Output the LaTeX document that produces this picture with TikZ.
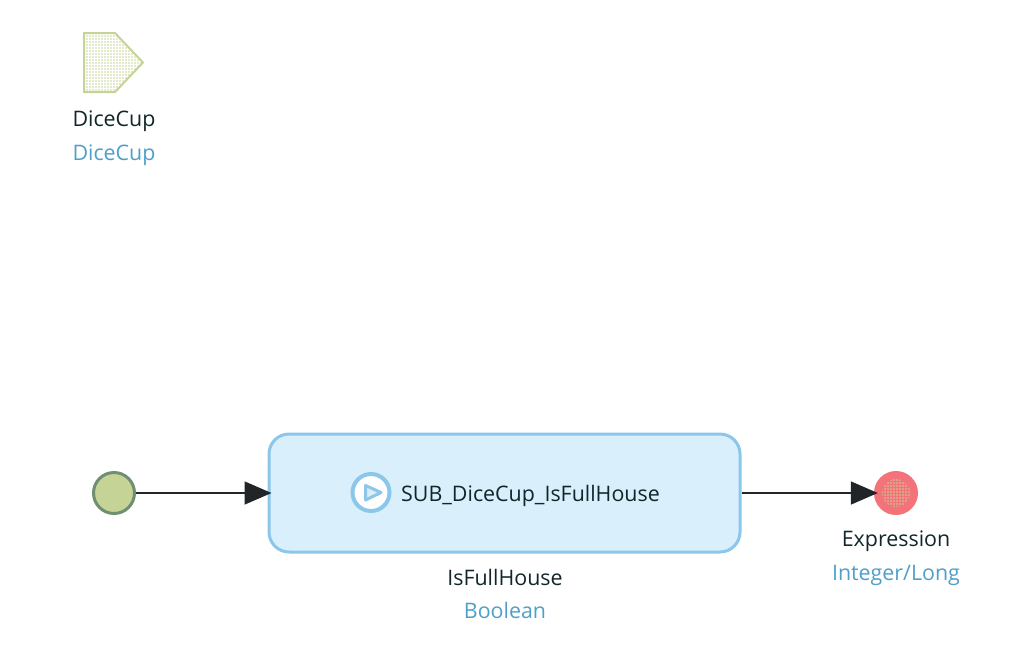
\documentclass[tikz,border=0pt]{standalone}
\usepackage{fontspec}
\setmainfont{Open Sans}
\usetikzlibrary{arrows.meta,patterns.meta}

\definecolor{flowBlue}{HTML}{8CC6EA}
\definecolor{flowFill}{HTML}{D9EFFB}
\definecolor{flowOlive}{HTML}{C6D396}
\definecolor{flowRing}{HTML}{6F8F70}
\definecolor{flowRed}{HTML}{F4727A}
\definecolor{flowType}{HTML}{4F9FC9}
\definecolor{flowText}{HTML}{10262A}
\definecolor{flowLine}{HTML}{222528}

\begin{document}
\begin{tikzpicture}
[x=1pt,y=-1pt,
flow/.style={draw=flowLine,line width=1.6pt,shorten >=-4pt,-{Triangle[length=27pt,width=23pt]}},
name label/.style={text=flowText,font=\fontsize{21.4}{25}\selectfont,inner sep=0pt,anchor=base},
type label/.style={text=flowType,font=\fontsize{21.4}{25}\selectfont,inner sep=0pt,anchor=base},
dotted fill/.style={pattern={Dots[distance=3pt,radius=0.9pt]},pattern color=flowOlive},
start event/.style={circle,draw=flowRing,fill=flowOlive,line width=3pt,minimum size=41pt,inner sep=0pt},
end event/.style={circle,fill=flowRed,minimum size=44pt,inner sep=0pt},
call box/.style={draw=flowBlue,fill=flowFill,line width=3pt,rounded corners=20pt,minimum width=471pt,minimum height=118pt,inner sep=0pt}]

\useasboundingbox (0,0) rectangle (1024,651);

% Parameter
\draw[draw=flowOlive,line width=2pt,dotted fill] (84,33) -- (115,33) -- (143,62.5) -- (115,92) -- (84,92) -- cycle;
\node[name label] (paramName) at (114,126) {DiceCup};
\node[type label] (paramType) at (114,160) {DiceCup};

% Flow
\node[start event] (start) at (114,493) {};
\node[call box] (call) at (504.5,493) {};
\node[end event] (end) at (896,493) {};
\path[dotted fill] (896,493) circle (14);

\draw[flow] (start) -- (call);
\draw[flow] (call) -- (end);

% Call icon and texts
\node[circle,draw=flowBlue,fill=white,line width=4pt,minimum size=37pt,inner sep=0pt] (icon) at (371,492.5) {};
\draw[draw=flowBlue,fill=flowFill,line width=3pt,line join=round] (365.5,485.5) -- (381,492.5) -- (365.5,500) -- cycle;
\node[name label,anchor=base west] (callName) at (401,501) {SUB\_DiceCup\_IsFullHouse};
\node[name label] (resultName) at (505,585) {IsFullHouse};
\node[type label] (resultType) at (505,618) {Boolean};
\node[name label] (endName) at (896,546.5) {Expression};
\node[type label] (endType) at (896,580) {Integer/Long};
\end{tikzpicture}
\end{document}
